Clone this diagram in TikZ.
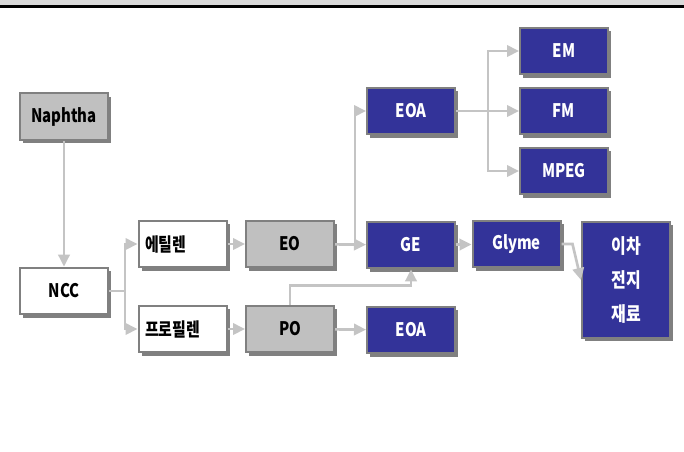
\documentclass[tikz,border=0pt]{standalone}
\usepackage{fontspec}
\setmainfont{Noto Sans CJK KR}[FakeStretch=0.8]
\usetikzlibrary{arrows.meta,shadows}
\definecolor{boxnavy}{HTML}{333399}
\definecolor{boxgray}{HTML}{C0C0C0}
\definecolor{edgegray}{HTML}{808080}
\definecolor{linegray}{HTML}{C4C4C4}
\definecolor{topgray}{HTML}{D9D9D9}
\tikzset{
  box/.style={draw=edgegray,line width=1.5pt,minimum width=66pt,minimum height=35pt,inner sep=0pt,
    drop shadow={shadow xshift=2.5pt,shadow yshift=-2.5pt,fill=edgegray,opacity=1}},
  navybox/.style={box,fill=boxnavy,text=white},
  graybox/.style={box,fill=boxgray},
  whitebox/.style={box,fill=white},
  leftbox/.style={whitebox,text width=56pt,align=left},
  line/.style={draw=linegray,line width=2pt},
  conn/.style={line,-{Triangle[length=9pt,width=8.5pt]}}
}
\begin{document}
\begin{tikzpicture}[x=0.75pt,y=-0.75pt, every node/.style={font=\bfseries\fontsize{14}{16}\selectfont}]
  \useasboundingbox (0,0) rectangle (684,451);
  % top rule
  \fill[topgray] (0,0) rectangle (684,5);
  \fill[black] (0,5) rectangle (684,7.5);
  % raw materials
  \node[graybox] (naph) at (64,116.5) {Naphtha};
  \node[whitebox] (ncc) at (64,291) {NCC};
  \node[leftbox] (eth) at (182.5,244) {에틸렌};
  \node[leftbox] (prop) at (182.5,329) {프로필렌};
  \node[graybox] (eo) at (290,244) {EO};
  \node[graybox] (po) at (290,329) {PO};
  % products
  \node[navybox] (eoa) at (411,111) {EOA};
  \node[navybox] (em) at (564,51) {EM};
  \node[navybox] (fm) at (564,111) {FM};
  \node[navybox] (mpeg) at (564,171) {MPEG};
  \node[navybox] (ge) at (411,245) {GE};
  \node[navybox] (glyme) at (516.5,244) {Glyme};
  \node[navybox] (eoab) at (411,330) {EOA};
  \node[navybox,minimum height=87pt,align=center,font=\bfseries\fontsize{15}{25.5}\selectfont] (batt) at (626,280) {이차\\전지\\재료};
  % connectors
  \draw[conn] (naph) -- (ncc);
  \draw[line] (ncc.east) -- ++(16,0) coordinate (nccsplit);
  \draw[conn] (nccsplit) |- (eth.west);
  \draw[conn] (nccsplit) |- (prop.west);
  \draw[conn] (eth) -- (eo);
  \draw[conn] (prop) -- (po);
  \draw[conn] (eo) -- (ge);
  \draw[conn] (eo.east) ++(20,0) |- (eoa.west);
  \draw[conn] (po) -- (eoab);
  \draw[conn] (po.north) -- ++(0,-19) -| (ge.south);
  \draw[conn] (eoa) -- (fm);
  \draw[conn] (eoa.east) ++(32,0) |- (em.west);
  \draw[conn] (eoa.east) ++(32,0) |- (mpeg.west);
  \draw[conn] (ge) -- (glyme);
  \draw[conn] (glyme.east) -- ++(11,0) -- (batt.west);
\end{tikzpicture}
\end{document}
